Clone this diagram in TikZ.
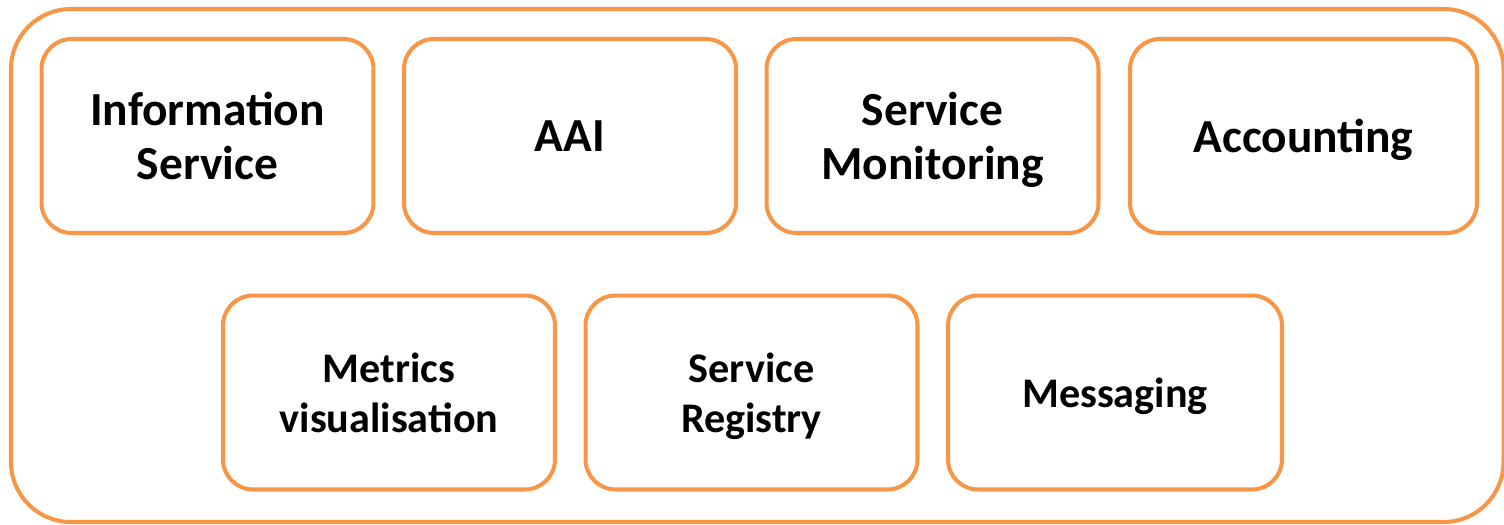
\documentclass[tikz,border=0pt]{standalone}
\usepackage{fontspec}
\setmainfont{Carlito}
\usepackage{tikz}
\usetikzlibrary{positioning}
\definecolor{boxorange}{HTML}{F79646}
\tikzset{
  frame/.style = {draw=boxorange, line width=2.3pt, rounded corners=1.2cm},
  servicebox/.style = {draw=boxorange, line width=2.3pt, rounded corners=0.6cm,
    minimum width=6.64cm, minimum height=3.88cm, align=center, inner sep=0pt,
    text depth=0pt},
  toplabel/.style = {font=\bfseries\fontsize{27}{31}\selectfont},
  lowlabel/.style = {font=\bfseries\fontsize{24}{28.3}\selectfont},
}
\begin{document}
\begin{tikzpicture}[x=0.02cm, y=-0.02cm]
\useasboundingbox (0,0) rectangle (1504,524);

% outer frame
\draw[frame] (11,9) rectangle (1503.5,522);

% top row
\node[servicebox, toplabel] (info) at (207.5,136) {Information\\Service};
\node[servicebox, toplabel] (aai) at (570,136) {AAI};
\node[servicebox, toplabel] (monitor) at (932.5,136) {Service\\Monitoring};
\node[servicebox, toplabel, minimum width=6.94cm] (acct) at (1303.5,136) {Accounting};

% bottom row
\node[servicebox, lowlabel] (metrics) at (389,392.5) {Metrics\\visualisation};
\node[servicebox, lowlabel] (registry) at (751.5,392.5) {Service\\Registry};
\node[servicebox, lowlabel, minimum width=6.68cm] (msg) at (1115,392.5) {Messaging};

\end{tikzpicture}
\end{document}
